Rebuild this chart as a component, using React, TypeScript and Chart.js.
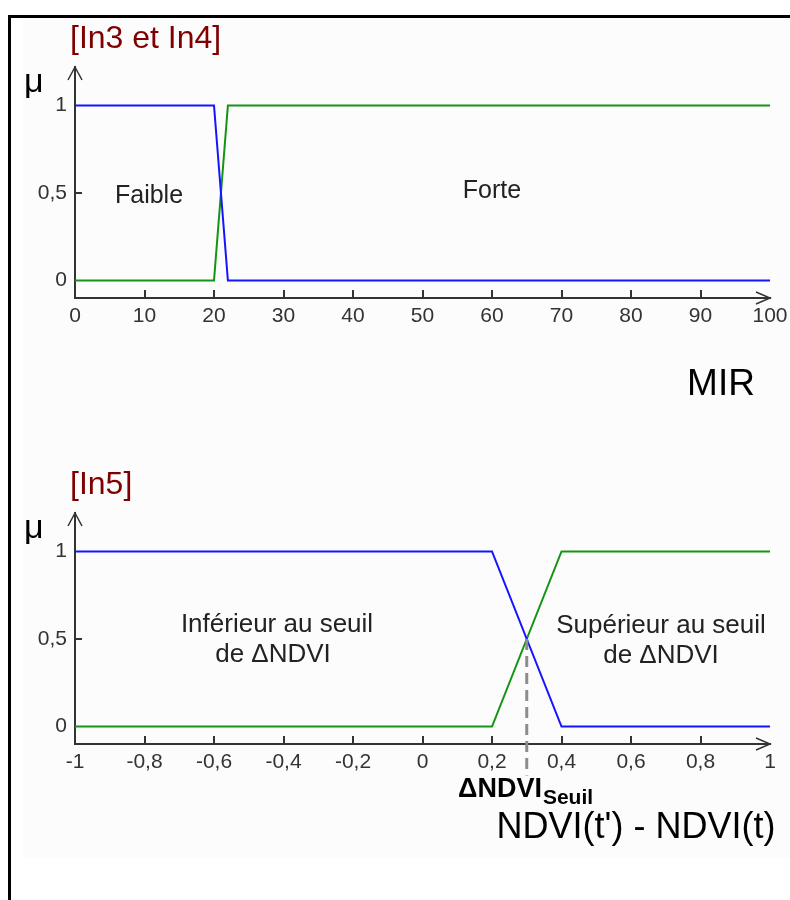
import React, { useEffect, useRef } from 'react';
import { Chart, registerables } from 'chart.js';

Chart.register(...registerables);

// ---- Data ----
const mirX = [0, 20, 22, 100];
const faibleY = [1, 1, 0, 0];
const forteY = [0, 0, 1, 1];
const mirTicks = [0, 10, 20, 30, 40, 50, 60, 70, 80, 90, 100];
const mirTickLabels = ['0', '10', '20', '30', '40', '50', '60', '70', '80', '90', '100'];

const ndviX = [-1, 0.2, 0.4, 1];
const inferieurY = [1, 1, 0, 0];
const superieurY = [0, 0, 1, 1];
const ndviTicks = [-1, -0.8, -0.6, -0.4, -0.2, 0, 0.2, 0.4, 0.6, 0.8, 1];
const ndviTickLabels = ['-1', '-0,8', '-0,6', '-0,4', '-0,2', '0', '0,2', '0,4', '0,6', '0,8', '1'];
const seuilX = [0.3, 0.3];
const seuilY = [0.5, -0.28];

const muTicks = [0, 0.5, 1];
const muTickLabels = ['0', '0,5', '1'];

const FONT = "'Liberation Sans', Arial, Helvetica, sans-serif";
const BLUE = '#1414ff';
const GREEN = '#149414';
const AXIS = '#333333';

type TextItem = {
  text: string;
  x: number;
  y: number;
  size: number;
  color: string;
  align: CanvasTextAlign;
  bold?: boolean;
  after?: TextItem; // subscript drawn right after
};

function makeOverlay(ticks: number[], texts: TextItem[]) {
  return {
    id: 'overlay',
    afterDraw(chart: any) {
      const ctx: CanvasRenderingContext2D = chart.ctx;
      const xs = chart.scales.x;
      const ys = chart.scales.y;
      const x0 = chart.chartArea.left;
      const x1 = chart.chartArea.right;
      const yt = chart.chartArea.top;
      const yb = chart.chartArea.bottom;
      ctx.save();
      ctx.strokeStyle = AXIS;
      ctx.lineWidth = 2;
      ctx.beginPath();
      ticks.slice(1, -1).forEach((v) => {
        const px = Math.round(xs.getPixelForValue(v));
        ctx.moveTo(px, yb);
        ctx.lineTo(px, yb - 8);
      });
      const p5 = Math.round(ys.getPixelForValue(0.5));
      ctx.moveTo(x0, p5);
      ctx.lineTo(x0 + 7, p5);
      ctx.stroke();
      // arrows
      ctx.lineWidth = 1.5;
      ctx.beginPath();
      ctx.moveTo(x1 - 14, yb - 6);
      ctx.lineTo(x1, yb);
      ctx.lineTo(x1 - 14, yb + 6);
      ctx.moveTo(x0 - 7, yt + 13);
      ctx.lineTo(x0, yt);
      ctx.lineTo(x0 + 7, yt + 13);
      ctx.stroke();
      // texts
      ctx.textBaseline = 'alphabetic';
      texts.forEach((t) => {
        ctx.font = `${t.bold ? 'bold ' : ''}${t.size}px ${FONT}`;
        ctx.fillStyle = t.color;
        ctx.textAlign = t.align;
        ctx.fillText(t.text, t.x, t.y);
        if (t.after) {
          const w = ctx.measureText(t.text).width;
          const a = t.after;
          ctx.font = `${a.bold ? 'bold ' : ''}${a.size}px ${FONT}`;
          ctx.fillStyle = a.color;
          ctx.textAlign = 'left';
          ctx.fillText(a.text, t.x + w + a.x, a.y);
        }
      });
      ctx.restore();
    },
  };
}

function makeConfig(
  height: number,
  xMin: number,
  xMax: number,
  xTicks: number[],
  xLabels: string[],
  datasets: any[],
  texts: TextItem[]
): any {
  const areaBottom = 298;
  return {
    type: 'line',
    data: { datasets },
    options: {
      animation: false,
      responsive: false,
      events: [],
      layout: { padding: { left: 0, top: 67, right: 20, bottom: 0 } },
      plugins: { legend: { display: false }, tooltip: { enabled: false }, title: { display: false } },
      elements: { point: { radius: 0 }, line: { tension: 0 } },
      scales: {
        x: {
          type: 'linear',
          min: xMin,
          max: xMax,
          afterBuildTicks: (s: any) => {
            s.ticks = xTicks.map((v) => ({ value: v }));
          },
          afterFit: (s: any) => {
            s.height = height - areaBottom;
            s.paddingLeft = 0;
            s.paddingRight = 0;
          },
          grid: { display: false, drawTicks: false },
          border: { display: true, color: AXIS, width: 2 },
          ticks: {
            autoSkip: false,
            maxRotation: 0,
            padding: 6,
            color: '#333',
            font: { family: FONT, size: 21 },
            callback: (_v: any, i: number) => xLabels[i],
          },
        },
        y: {
          type: 'linear',
          min: -0.1,
          max: 1.22,
          afterBuildTicks: (s: any) => {
            s.ticks = muTicks.map((v) => ({ value: v }));
          },
          afterFit: (s: any) => {
            s.width = 75;
            s.paddingTop = 0;
            s.paddingBottom = 0;
          },
          grid: { display: false, drawTicks: false },
          border: { display: true, color: AXIS, width: 2 },
          ticks: {
            autoSkip: false,
            padding: 8,
            color: '#333',
            font: { family: FONT, size: 21 },
            callback: (_v: any, i: number) => muTickLabels[i],
          },
        },
      },
    },
    plugins: [makeOverlay(xTicks, texts)],
  };
}

const pts = (xs: number[], ys: number[]) => xs.map((x, i) => ({ x, y: ys[i] }));

export default function App() {
  const ref1 = useRef<HTMLCanvasElement>(null);
  const ref2 = useRef<HTMLCanvasElement>(null);

  useEffect(() => {
    const topTexts: TextItem[] = [
      { text: '[In3 et In4]', x: 70, y: 48, size: 32, color: '#800000', align: 'left' },
      { text: 'μ', x: 24, y: 92, size: 34, color: '#000', align: 'left' },
      { text: 'Faible', x: 149, y: 203, size: 25, color: '#222', align: 'center' },
      { text: 'Forte', x: 492, y: 198, size: 25, color: '#222', align: 'center' },
      { text: 'MIR', x: 721, y: 395, size: 37, color: '#000', align: 'center' },
    ];
    const botTexts: TextItem[] = [
      { text: '[In5]', x: 70, y: 48, size: 32, color: '#800000', align: 'left' },
      { text: 'μ', x: 24, y: 92, size: 34, color: '#000', align: 'left' },
      { text: 'Inférieur au seuil', x: 277, y: 186, size: 26, color: '#222', align: 'center' },
      { text: 'de ΔNDVI', x: 273, y: 216, size: 26, color: '#222', align: 'center' },
      { text: 'Supérieur au seuil', x: 661, y: 187, size: 26, color: '#222', align: 'center' },
      { text: 'de ΔNDVI', x: 661, y: 217, size: 26, color: '#222', align: 'center' },
      {
        text: 'ΔNDVI',
        x: 458,
        y: 351,
        size: 27,
        color: '#000',
        align: 'left',
        bold: true,
        after: { text: 'Seuil', x: 1, y: 358, size: 21, color: '#000', align: 'left', bold: true },
      },
      { text: "NDVI(t') - NDVI(t)", x: 636, y: 392, size: 36, color: '#000', align: 'center' },
    ];

    const c1 = new Chart(
      ref1.current as HTMLCanvasElement,
      makeConfig(
        446,
        0,
        100,
        mirTicks,
        mirTickLabels,
        [
          { label: 'Faible', data: pts(mirX, faibleY), borderColor: BLUE, borderWidth: 2, fill: false },
          { label: 'Forte', data: pts(mirX, forteY), borderColor: GREEN, borderWidth: 2, fill: false },
        ],
        topTexts
      )
    );
    const c2 = new Chart(
      ref2.current as HTMLCanvasElement,
      makeConfig(
        454,
        -1,
        1,
        ndviTicks,
        ndviTickLabels,
        [
          {
            label: 'Seuil',
            data: pts(seuilX, seuilY),
            borderColor: '#8c8c8c',
            borderWidth: 3,
            borderDash: [11, 6],
            clip: false,
            fill: false,
          },
          { label: 'Inférieur', data: pts(ndviX, inferieurY), borderColor: BLUE, borderWidth: 2, fill: false },
          { label: 'Supérieur', data: pts(ndviX, superieurY), borderColor: GREEN, borderWidth: 2, fill: false },
        ],
        botTexts
      )
    );
    return () => {
      c1.destroy();
      c2.destroy();
    };
  }, []);

  return (
    <div
      style={{
        position: 'absolute',
        left: 0,
        top: 0,
        width: 790,
        height: 900,
        background: '#fff',
        overflow: 'hidden',
      }}
    >
      <div style={{ position: 'absolute', left: 23, top: 17, width: 767, height: 841, background: '#fcfcfc' }} />
      <div style={{ position: 'absolute', left: 8, top: 15, width: 3, height: 885, background: '#000' }} />
      <div style={{ position: 'absolute', left: 8, top: 15, width: 782, height: 3, background: '#000' }} />
      <div style={{ position: 'absolute', left: 0, top: 0, width: 790, height: 446 }}>
        <canvas ref={ref1} width={790} height={446} style={{ display: 'block' }} />
      </div>
      <div style={{ position: 'absolute', left: 0, top: 446, width: 790, height: 454 }}>
        <canvas ref={ref2} width={790} height={454} style={{ display: 'block' }} />
      </div>
    </div>
  );
}
